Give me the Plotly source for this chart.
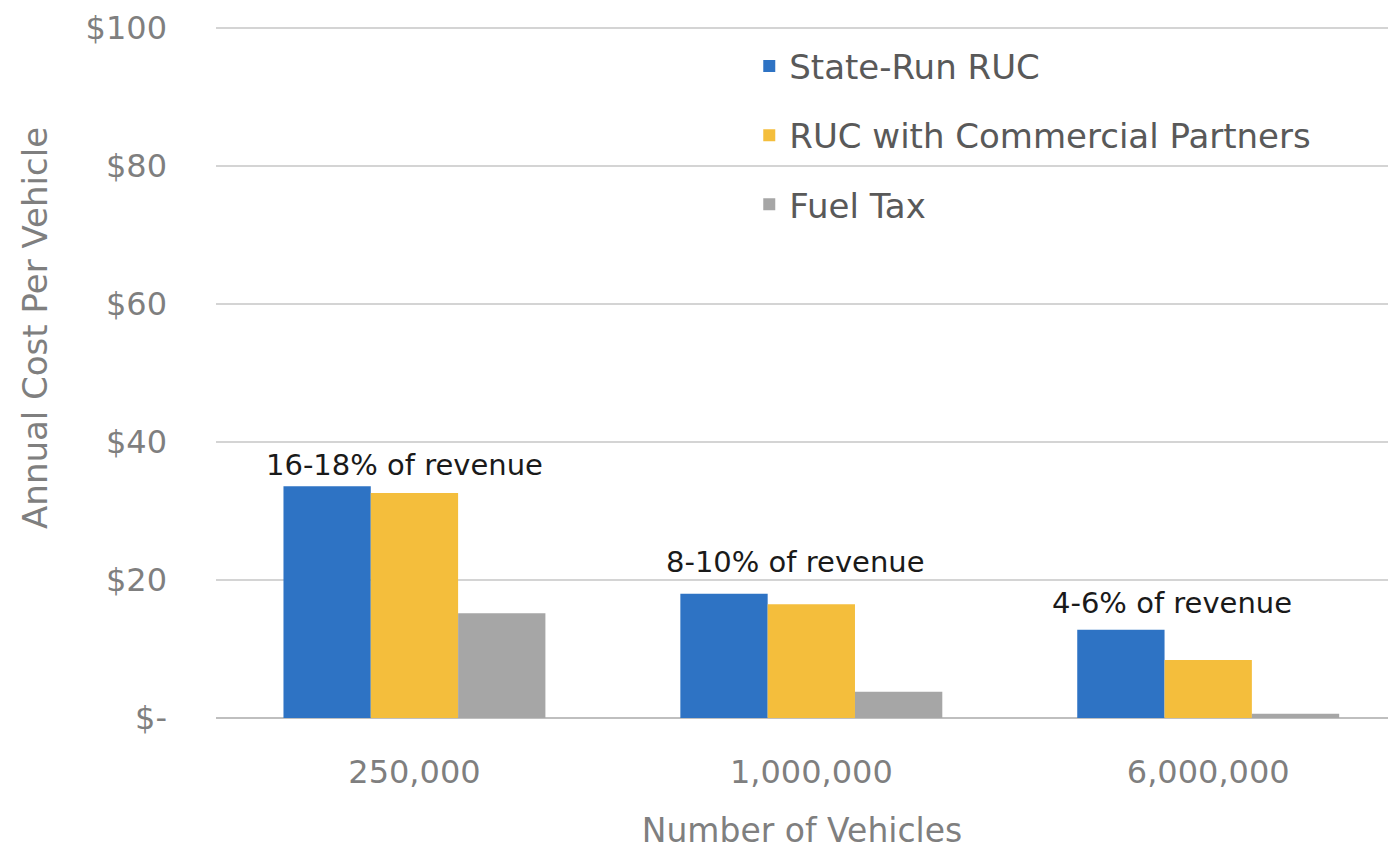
import plotly.graph_objects as go

categories = ["250,000", "1,000,000", "6,000,000"]
state_run = [33.6, 18.0, 12.8]
commercial = [32.6, 16.5, 8.4]
fuel_tax = [15.2, 3.8, 0.6]
series_names = ["State-Run RUC", "RUC with Commercial Partners", "Fuel Tax"]
colors = ["#2E73C4", "#F4BE3C", "#A6A6A6"]
ann_text = ["16-18% of revenue", "8-10% of revenue", "4-6% of revenue"]
ann_x = [-0.025, -0.04, -0.09]
ann_y = [36.6, 22.6, 16.6]
ytick_vals = [0, 20, 40, 60, 80, 100]
ytick_text = ["$-", "$20", "$40", "$60", "$80", "$100"]

FONT = "DejaVu Sans"
GREY = "#7f7f7f"
fig = go.Figure()
for i, (name, vals) in enumerate(zip(series_names, [state_run, commercial, fuel_tax])):
    fig.add_trace(go.Bar(x=categories, y=vals, name=name, marker_color=colors[i],
                         marker_line_width=0, legendgroup=f"g{i}"))

for i, (t, yv) in enumerate(zip(ann_text, ann_y)):
    fig.add_annotation(x=i + ann_x[i], y=yv, xref="x", yref="y", text=t, showarrow=False,
                       font=dict(family=FONT, size=29, color="#1a1a1a"))

fig.add_annotation(x=-0.155, y=0.565, xref="paper", yref="paper", text="Annual Cost Per Vehicle",
                   textangle=-90, showarrow=False, xanchor="center", yanchor="middle",
                   font=dict(family=FONT, size=34, color=GREY))

fig.update_layout(
    width=1388, height=851,
    margin=dict(l=216, r=0, t=27, b=133),
    paper_bgcolor="white", plot_bgcolor="white",
    barmode="group", bargap=0.34, bargroupgap=0,
    font=dict(family=FONT, color=GREY),
    legend=dict(x=0.455, y=0.985, xanchor="left", yanchor="top",
                font=dict(family=FONT, size=34, color="#595959"),
                traceorder="grouped", tracegroupgap=22, bgcolor="rgba(0,0,0,0)"),
    xaxis=dict(range=[-0.5, 2.453], showgrid=False, showline=False, zeroline=False,
               tickfont=dict(family=FONT, size=32, color=GREY), ticks="",
               ticklabelstandoff=32,
               title=dict(text="Number of Vehicles", font=dict(family=FONT, size=33, color=GREY),
                          standoff=28)),
    yaxis=dict(range=[0, 100.15], tickvals=ytick_vals, ticktext=ytick_text,
               showgrid=True, gridcolor="#D4D4D4", gridwidth=1.5, zeroline=True,
               zerolinecolor="#BFBFBF", zerolinewidth=1.5, showline=False,
               tickfont=dict(family=FONT, size=32, color=GREY), ticklabelstandoff=48),
)

fig.write_html("out.html")
